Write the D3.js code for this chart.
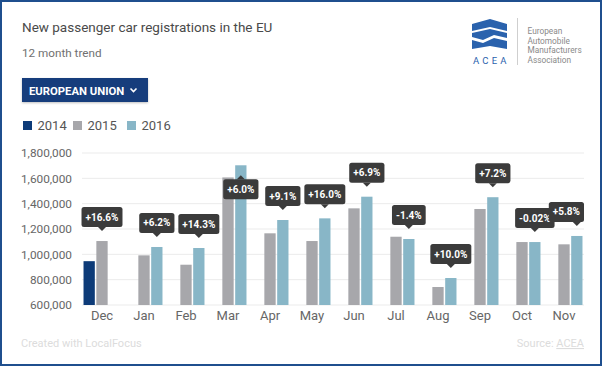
<!DOCTYPE html>
<html>
<head>
<meta charset="utf-8">
<script src="https://cdn.jsdelivr.net/npm/d3@7/dist/d3.min.js"></script>
<style>
  html, body { margin: 0; padding: 0; background: #fff; }
  svg { display: block; font-family: Roboto, "Open Sans", sans-serif; }
</style>
</head>
<body>
<svg id="chart" width="602" height="366"></svg>
<script>
const months = ["Dec","Jan","Feb","Mar","Apr","May","Jun","Jul","Aug","Sep","Oct","Nov"];
const years = ["2014","2015","2016"];
const values2014 = [946000, null, null, null, null, null, null, null, null, null, null, null];
const values2015 = [1105000, 992000, 918000, 1607000, 1166000, 1105000, 1363000, 1139000, 742000, 1358000, 1097000, 1079000];
const values2016 = [null, 1058000, 1050000, 1703000, 1271000, 1284000, 1455000, 1121000, 813000, 1451000, 1097000, 1145000];
const changes = ["+16.6%","+6.2%","+14.3%","+6.0%","+9.1%","+16.0%","+6.9%","-1.4%","+10.0%","+7.2%","-0.02%","+5.8%"];
const yTicks = [600000, 800000, 1000000, 1200000, 1400000, 1600000, 1800000];
const colors = ["#0d3b78", "#a7a7ab", "#88b6c7"];

const series = [values2014, values2015, values2016];
const svg = d3.select("#chart");

// frame
svg.append("rect").attr("x", 1).attr("y", 1).attr("width", 600).attr("height", 364)
  .attr("fill", "#fff").attr("stroke", "#1f4f8e").attr("stroke-width", 2);

// title
svg.append("text").attr("x", 22).attr("y", 32).attr("font-size", 13.5).attr("fill", "#4a4a4a").text("New passenger car registrations in the EU");
svg.append("text").attr("x", 22).attr("y", 57).attr("font-size", 11.7).attr("fill", "#707070").text("12 month trend");

// button
const defs = svg.append("defs");
const f = defs.append("filter").attr("id", "sh").attr("x", "-10%").attr("y", "-20%").attr("width", "120%").attr("height", "160%");
f.append("feDropShadow").attr("dx", 0).attr("dy", 1).attr("stdDeviation", 1).attr("flood-color", "#000").attr("flood-opacity", 0.25);
svg.append("rect").attr("x", 22).attr("y", 78).attr("width", 126).attr("height", 24).attr("fill", "#123e7b").attr("filter", "url(#sh)");
svg.append("text").attr("x", 29).attr("y", 94.5).attr("font-size", 11.3).attr("font-weight", "bold").attr("fill", "#fff").text("EUROPEAN UNION");
svg.append("path").attr("d", "M130.5,88.5 L133.5,91.5 L136.5,88.5").attr("fill", "none").attr("stroke", "#fff").attr("stroke-width", 1.6);

// legend
const legX = [23, 73, 127];
years.forEach((yr, i) => {
  svg.append("rect").attr("x", legX[i]).attr("y", 121).attr("width", 9).attr("height", 9).attr("fill", colors[i]);
  svg.append("text").attr("x", legX[i] + 14.5).attr("y", 130).attr("font-size", 13).attr("fill", "#555").text(yr);
});

// logo
const logo = svg.append("g").attr("fill", "#2a62ad");
logo.append("path").attr("d", "M472,24 L490,19 L507,24 L507,31 L490,27 L472,31 Z");
logo.append("path").attr("d", "M472,33 L490,29 L507,33 L507,38 L494,35 L483,40 L472,37 Z");
logo.append("path").attr("d", "M472,40 L483,43 L494,38 L507,41 L507,49 L490,46 L472,49 Z");
svg.append("text").attr("x", 473).attr("y", 64).attr("font-size", 9.5).attr("letter-spacing", 3.2).attr("fill", "#2a62ad").text("ACEA");
svg.append("line").attr("x1", 517.5).attr("x2", 517.5).attr("y1", 18).attr("y2", 65).attr("stroke", "#cfcfcf").attr("stroke-width", 1);
["European","Automobile","Manufacturers","Association"].forEach((t, i) => {
  svg.append("text").attr("x", 527.5).attr("y", 34 + i * 9.7).attr("font-size", 8.3).attr("fill", "#8a8a8a").text(t);
});

// scales
const x = d3.scaleBand().domain(months).range([81, 585]).paddingInner(0.12).paddingOuter(0.06);
const xi = d3.scaleBand().domain(years).range([0, x.bandwidth()]).paddingInner(0.12);
const y = d3.scaleLinear().domain([600000, 1800000]).range([305, 153]);

// grid
svg.append("g").selectAll("line").data(yTicks).join("line")
  .attr("x1", 82).attr("x2", 584).attr("y1", d => y(d)).attr("y2", d => y(d))
  .attr("stroke", "#ebebeb").attr("stroke-width", 1);

// y axis
const yAxis = svg.append("g").attr("transform", "translate(72,0)")
  .call(d3.axisLeft(y).tickValues(yTicks).tickSize(0).tickPadding(0).tickFormat(d3.format(",")));
yAxis.select(".domain").remove();
yAxis.selectAll("text").attr("font-size", 11.8).attr("fill", "#666").attr("font-family", "Roboto, sans-serif");

// x axis
const xAxis = svg.append("g").attr("transform", "translate(0,308)")
  .call(d3.axisBottom(x).tickSize(0).tickPadding(0));
xAxis.select(".domain").remove();
xAxis.selectAll("text").attr("font-size", 13).attr("fill", "#666").attr("font-family", "Roboto, sans-serif").attr("dy", "12px");

// bars
const barData = [];
months.forEach((m, i) => {
  years.forEach((yr, k) => {
    const v = series[k][i];
    if (v != null) barData.push({ m, yr, v, k });
  });
});
svg.append("g").selectAll("rect").data(barData).join("rect")
  .attr("x", d => x(d.m) + xi(d.yr)).attr("width", xi.bandwidth())
  .attr("y", d => y(d.v)).attr("height", d => y(600000) - y(d.v))
  .attr("fill", d => colors[d.k]);

// labels
const lg = svg.append("g");
months.forEach((m, i) => {
  let k = 2; while (series[k][i] == null) k--;
  const v = series[k][i];
  const cx = x(m) + xi(years[k]) + xi.bandwidth() / 2;
  const top = y(v);
  const g = lg.append("g");
  const t = g.append("text").attr("font-size", 10).attr("font-weight", "bold").attr("fill", "#fff")
    .attr("text-anchor", "middle").text(changes[i]);
  const tw = t.node().getComputedTextLength();
  const w = tw + 8, h = 20;
  let bx = cx - w / 2;
  if (bx + w > 584) bx = 584 - w;
  let tip, by, tri;
  if (top - 10 - 4 - h < 150) {
    tip = top + 10; by = tip + 4;
    tri = `M${cx - 4},${by} L${cx},${tip} L${cx + 4},${by} Z`;
  } else {
    tip = top - 10; by = tip - 4 - h;
    tri = `M${cx - 4},${by + h} L${cx},${tip} L${cx + 4},${by + h} Z`;
  }
  g.insert("rect", "text").attr("x", bx).attr("y", by).attr("width", w).attr("height", h).attr("rx", 2.5).attr("fill", "#3b3b3b");
  g.insert("path", "text").attr("d", tri).attr("fill", "#3b3b3b");
  t.attr("x", bx + w / 2).attr("y", by + 13.5);
});

// footer
svg.append("text").attr("x", 21).attr("y", 347).attr("font-size", 11).attr("fill", "#dcdcdc").text("Created with LocalFocus");
const src = svg.append("text").attr("x", 584).attr("y", 347).attr("font-size", 11).attr("fill", "#dcdcdc").attr("text-anchor", "end");
src.append("tspan").text("Source: ");
src.append("tspan").attr("text-decoration", "underline").text("ACEA");
</script>
</body>
</html>
